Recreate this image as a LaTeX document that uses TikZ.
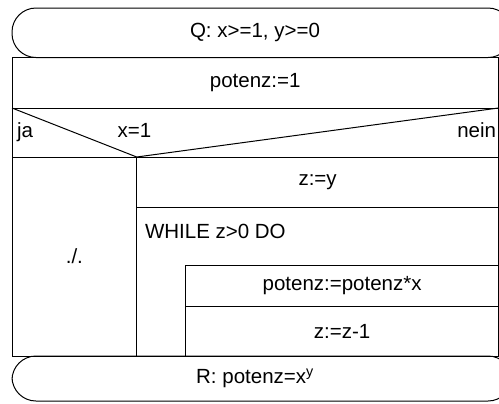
\documentclass[tikz,border=0pt]{standalone}
\usepackage{fontspec}
\setmainfont{Liberation Sans}
\usepackage{tikz}

\begin{document}
\begin{tikzpicture}[
  x=1bp,y=-1bp,
  font=\fontsize{20.5bp}{24bp}\selectfont,
  cell/.style={draw=black, line width=1bp, anchor=north west, inner sep=0pt, outer sep=0pt, align=center},
  term/.style={cell, rounded corners=24bp},
  txt/.style={inner sep=0pt, outer sep=0pt},
  edge/.style={line width=1bp, draw=black}
]
\useasboundingbox (0,0) rectangle (499,403);
\clip (0,0) rectangle (499,403);
\node[term, minimum width=500bp, minimum height=49.5bp] (pre) at (12,8) {};
\node[txt] (pretext) at (255,32.75) {Q: x>=1, y>=0};
\node[cell, minimum width=486.5bp, minimum height=50.5bp] (init) at (12,57.5) {potenz:=1};
\node[cell, minimum width=486.5bp, minimum height=49.5bp] (cond) at (12,108) {};
\coordinate (apex) at (136.7,157);
\draw[edge] (cond.north west) -- (apex) -- (cond.north east);
\node[txt, anchor=base west] (ja) at (17,137.5) {ja};
\node[txt, anchor=base] (test) at (134.5,137.5) {x=1};
\node[txt, anchor=base east] (nein) at (496,137.5) {nein};
\node[cell, minimum width=124.7bp, minimum height=199bp] (empty) at (12,157) {./.};
\node[cell, minimum width=361.8bp, minimum height=50bp] (zy) at (136.7,157) {z:=y};
\node[cell, minimum width=361.8bp, minimum height=149bp] (loop) at (136.7,207) {};
\node[txt, anchor=base west] (while) at (145,238) {WHILE z>0 DO};
\node[cell, minimum width=312.8bp, minimum height=41bp] (mult) at (185.7,265) {potenz:=potenz*x};
\node[cell, minimum width=312.8bp, minimum height=50bp] (dec) at (185.7,306) {z:=z-1};
\node[term, minimum width=500bp, minimum height=45bp] (post) at (12,356) {};
\node[txt] (posttext) at (255,378.5) {R: potenz=x\textsuperscript{y}};
\end{tikzpicture}
\end{document}
